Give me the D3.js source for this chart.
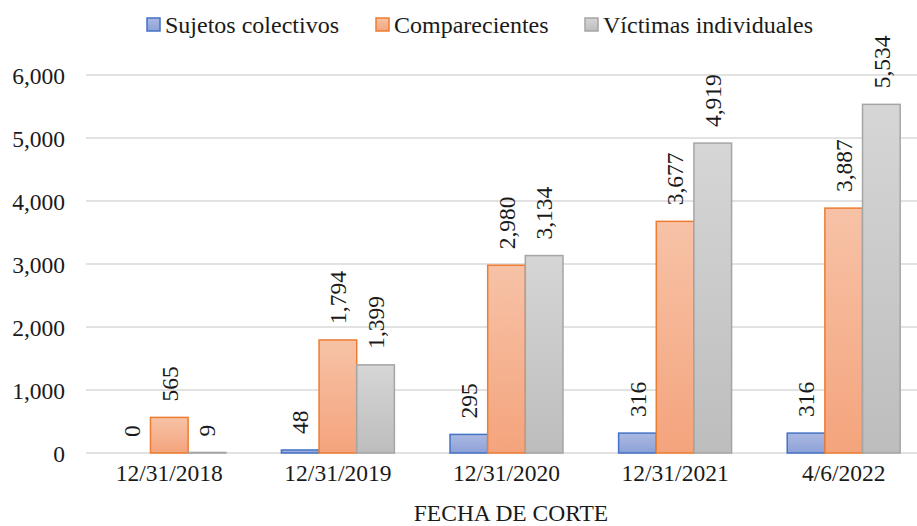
<!DOCTYPE html>
<html>
<head>
<meta charset="utf-8">
<script src="https://cdn.jsdelivr.net/npm/d3@7"></script>
<style>
  body { margin: 0; background: #fff; }
  svg text { font-family: "Liberation Serif", "Times New Roman", serif; fill: #1a1a1a; }
</style>
</head>
<body>
<script>
// data
const categories = ['12/31/2018', '12/31/2019', '12/31/2020', '12/31/2021', '4/6/2022'];
const seriesNames = ['Sujetos colectivos', 'Comparecientes', 'Víctimas individuales'];
const sujetos = [0, 48, 295, 316, 316];
const comparecientes = [565, 1794, 2980, 3677, 3887];
const victimas = [9, 1399, 3134, 4919, 5534];
const yTicks = [0, 1000, 2000, 3000, 4000, 5000, 6000];

const seriesValues = [sujetos, comparecientes, victimas];
const colors = [
    {top: '#aab9e2', bottom: '#8da1d8', stroke: '#4472c4'},
    {top: '#f7c2a7', bottom: '#f4a47c', stroke: '#ed7d31'},
    {top: '#d6d6d6', bottom: '#bdbdbd', stroke: '#a5a5a5'}
];
const fontSize = 23.5;

const width = 917, height = 526;
const svg = d3.select('body').append('svg').attr('width', width).attr('height', height);

// gradients
const defs = svg.append('defs');
colors.forEach((c, i) => {
    const g = defs.append('linearGradient').attr('id', 'grad' + i)
        .attr('x1', 0).attr('y1', 0).attr('x2', 0).attr('y2', 1);
    g.append('stop').attr('offset', '0%').attr('stop-color', c.top);
    g.append('stop').attr('offset', '100%').attr('stop-color', c.bottom);
});

// scales
const x = d3.scaleBand().domain(categories).range([85, 928]).paddingInner(0.33).paddingOuter(0.165);
const xs = d3.scaleBand().domain(seriesNames).range([0, x.bandwidth()]);
const y = d3.scaleLinear().domain([0, 6000]).range([453, 75]);

// gridlines
svg.append('g').selectAll('line').data(yTicks).join('line')
    .attr('x1', 86).attr('x2', width)
    .attr('y1', d => y(d)).attr('y2', d => y(d))
    .attr('stroke', '#d9d9d9').attr('stroke-width', 1.5);

// y axis labels
const yAxis = svg.append('g').attr('transform', 'translate(65,0)')
    .call(d3.axisLeft(y).tickValues(yTicks).tickFormat(d3.format(',')).tickSize(0).tickPadding(0));
yAxis.select('.domain').remove();
yAxis.selectAll('text').attr('font-size', fontSize).attr('dy', '0.35em');

// x axis labels
const xAxis = svg.append('g').attr('transform', 'translate(0,453)')
    .call(d3.axisBottom(x).tickSize(0).tickPadding(20));
xAxis.select('.domain').remove();
xAxis.selectAll('text').attr('font-size', fontSize).attr('dy', '0.35em');

// bars
const groups = svg.append('g').selectAll('g').data(seriesNames).join('g');
groups.each(function(name, si) {
    const vals = seriesValues[si];
    const g = d3.select(this);
    g.selectAll('rect').data(vals).join('rect')
        .attr('x', (d, i) => x(categories[i]) + xs(name))
        .attr('y', d => y(d))
        .attr('width', xs.bandwidth())
        .attr('height', d => y(0) - y(d))
        .attr('fill', `url(#grad${si})`)
        .attr('stroke', colors[si].stroke)
        .attr('stroke-width', 1.5)
        .attr('stroke-opacity', d => d > 0 ? 1 : 0);
    g.selectAll('text').data(vals).join('text')
        .attr('transform', (d, i) => {
            const cx = x(categories[i]) + xs(name) + xs.bandwidth() / 2;
            return `translate(${cx},${y(d) - 16}) rotate(-90)`;
        })
        .attr('dy', '0.35em')
        .attr('font-size', fontSize)
        .text(d => d3.format(',')(d));
});

// axis title
svg.append('text').attr('x', 511).attr('y', 513).attr('text-anchor', 'middle')
    .attr('dy', '0.35em').attr('font-size', fontSize).text('FECHA DE CORTE');

// legend
const legendX = [147, 376, 585];
const legend = svg.append('g').selectAll('g').data(seriesNames).join('g')
    .attr('transform', (d, i) => `translate(${legendX[i]},24.5)`);
legend.append('rect').attr('x', 0).attr('y', -6.5).attr('width', 13).attr('height', 13)
    .attr('fill', (d, i) => `url(#grad${i})`)
    .attr('stroke', (d, i) => colors[i].stroke).attr('stroke-width', 1.5);
legend.append('text').attr('x', 18).attr('dy', '0.35em').attr('font-size', 24).text(d => d);
</script>
</body>
</html>
